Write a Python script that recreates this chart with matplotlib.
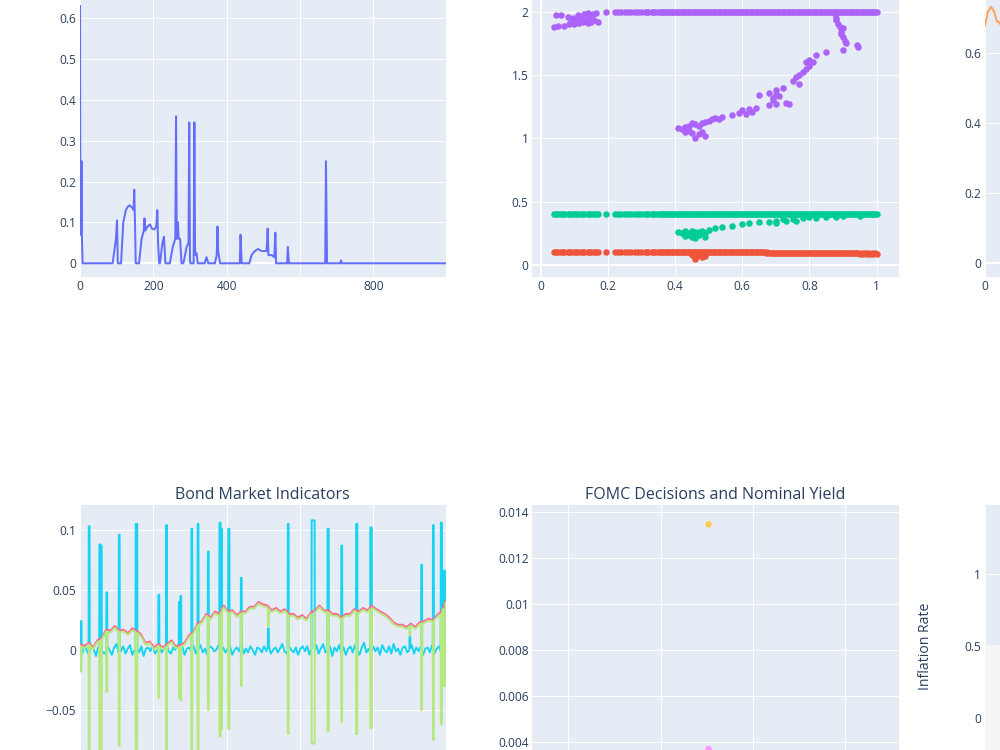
import numpy as np
import matplotlib
matplotlib.use("Agg")
import matplotlib.pyplot as plt
from matplotlib.ticker import FixedLocator, FuncFormatter

plt.rcParams['font.family'] = ['Open Sans', 'DejaVu Sans']

# ---------------- data ----------------
# top-left line (vertices)
tl_x = [0, 1, 2, 3, 4, 5, 7, 89, 98, 101, 103, 112, 118, 125, 130, 135, 140, 144, 146, 148, 150, 152,
        161, 168, 174, 176, 178, 184, 191, 196, 203, 208, 211, 213, 216, 218, 225, 229, 233, 245, 253,
        260, 262, 264, 267, 269, 273, 277, 282, 291, 296, 298, 300, 301, 310, 312, 314, 318, 321, 340,
        345, 350, 368, 373, 375, 377, 382, 436, 438, 441, 462, 468, 477, 486, 495, 509, 512, 514, 523,
        530, 533, 535, 565, 567, 570, 669, 671, 674, 710, 712, 715, 999]
tl_y = [0.63, 0.07, 0.25, 0.08, 0.25, 0.07, 0, 0, 0.06, 0.105, 0, 0, 0.1, 0.13, 0.138, 0.142, 0.138,
        0.135, 0.13, 0.18, 0.1, 0, 0, 0.06, 0.08, 0.11, 0.08, 0.09, 0.095, 0.085, 0.083, 0.09, 0.13,
        0.05, 0, 0, 0.05, 0.065, 0, 0, 0.04, 0.06, 0.36, 0.06, 0.1, 0.06, 0.06, 0, 0, 0.04, 0.05,
        0.345, 0.01, 0, 0, 0.345, 0.02, 0.025, 0, 0, 0.015, 0, 0, 0.02, 0.09, 0.03, 0, 0, 0.07, 0, 0,
        0.02, 0.03, 0.035, 0.03, 0.03, 0.085, 0.02, 0.02, 0.015, 0.075, 0, 0, 0.04, 0, 0, 0.25, 0, 0,
        0.007, 0, 0]

# top-middle scatter
band_x = [0.04, 0.05, 0.06, 0.07, 0.08, 0.09, 0.10, 0.11, 0.12, 0.13, 0.14, 0.15, 0.16, 0.17, 0.195,
          0.22, 0.23, 0.24, 0.25, 0.26, 0.27, 0.28, 0.29, 0.30, 0.31, 0.32, 0.33, 0.34, 0.35, 0.36,
          0.37, 0.38, 0.39, 0.40, 0.41, 0.42, 0.43, 0.44, 0.45, 0.46, 0.47, 0.48, 0.49, 0.50, 0.51,
          0.52, 0.53, 0.54, 0.55, 0.56, 0.57, 0.58, 0.59, 0.60, 0.61, 0.62, 0.63, 0.64, 0.65, 0.66,
          0.67, 0.68, 0.69, 0.70, 0.71, 0.72, 0.73, 0.74, 0.75, 0.76, 0.77, 0.78, 0.79, 0.80, 0.81,
          0.82, 0.83, 0.84, 0.85, 0.86, 0.87, 0.88, 0.89, 0.90, 0.91, 0.92, 0.93, 0.94, 0.95, 0.96,
          0.97, 0.98, 0.99, 1.00]
# extra in-between samples where the bands are continuous
band_fill_x = [0.045, 0.065, 0.085, 0.105, 0.125, 0.145, 0.165,
               0.315, 0.335, 0.355, 0.365, 0.375, 0.385, 0.395, 0.405, 0.415, 0.425, 0.435, 0.445,
               0.455, 0.465, 0.475, 0.485, 0.495, 0.505, 0.515, 0.525, 0.535, 0.545, 0.555, 0.565,
               0.575, 0.585, 0.595, 0.605, 0.615, 0.625, 0.635, 0.645, 0.655, 0.665, 0.675, 0.685,
               0.695, 0.705, 0.715, 0.725, 0.735, 0.745, 0.755, 0.765, 0.775, 0.785, 0.795, 0.805,
               0.815, 0.825, 0.835, 0.845, 0.855, 0.865, 0.875, 0.885, 0.895, 0.905, 0.915, 0.925,
               0.935, 0.945, 0.955, 0.965, 0.975, 0.985, 0.995]
green_band_y = [0.4] * len(band_x)
green_fill_y = [0.4] * len(band_fill_x)
red_band_y = [0.1, 0.1, 0.1, 0.1, 0.1, 0.1, 0.1, 0.1, 0.1, 0.1, 0.1, 0.1, 0.1, 0.1, 0.1,
              0.1, 0.1, 0.1, 0.1, 0.1, 0.1, 0.1, 0.1, 0.1, 0.1, 0.1, 0.1, 0.1, 0.1, 0.1,
              0.1, 0.1, 0.1, 0.1, 0.1, 0.1, 0.1, 0.1, 0.1, 0.1, 0.1, 0.1, 0.1, 0.1, 0.1,
              0.1, 0.1, 0.1, 0.1, 0.1, 0.1, 0.1, 0.1, 0.1, 0.1, 0.1, 0.1, 0.1, 0.1, 0.1,
              0.098, 0.098, 0.098, 0.098, 0.097, 0.097, 0.097, 0.097, 0.096, 0.096, 0.096, 0.095, 0.095, 0.095, 0.095,
              0.094, 0.094, 0.094, 0.093, 0.093, 0.093, 0.092, 0.092, 0.092, 0.092, 0.091, 0.091, 0.091, 0.09, 0.09,
              0.09, 0.09, 0.09, 0.09]
red_fill_y = [0.1] * 7 + [0.1] * 35 + [0.097] * 16 + [0.093] * 16
purple_top_x = band_x[14:] + band_fill_x[7:]
purple_top_y = [2.0] * len(purple_top_x)
purple_x = [0.04, 0.045, 0.05, 0.06, 0.07, 0.08, 0.085, 0.09, 0.095, 0.10, 0.105, 0.11, 0.115, 0.12,
            0.125, 0.13, 0.135, 0.14, 0.145, 0.15, 0.155, 0.16, 0.165, 0.17, 0.10, 0.12, 0.14,
            0.875, 0.88, 0.885, 0.89, 0.895, 0.90, 0.90, 0.905, 0.91, 0.90, 0.94, 0.945, 0.88, 0.895,
            0.41, 0.42, 0.43, 0.43, 0.44, 0.44, 0.45, 0.45, 0.46, 0.46, 0.47, 0.47, 0.48, 0.48, 0.49,
            0.49, 0.50, 0.51, 0.52, 0.53, 0.54, 0.57, 0.59, 0.60, 0.61, 0.62, 0.63, 0.64, 0.65, 0.68,
            0.69, 0.70, 0.71, 0.72, 0.73, 0.68, 0.70, 0.74, 0.75, 0.76, 0.77, 0.77, 0.78, 0.79, 0.79,
            0.80, 0.80, 0.81, 0.82, 0.85, 0.70, 0.69]
purple_y = [1.88, 1.97, 1.89, 1.97, 1.89, 1.96, 1.90, 1.92, 1.95, 1.90, 1.93, 1.97, 1.91, 1.94,
            1.92, 1.98, 1.93, 1.99, 1.95, 1.92, 1.98, 1.93, 1.99, 1.92, 1.91, 1.95, 1.91,
            1.98, 1.93, 1.90, 1.88, 1.84, 1.80, 1.87, 1.77, 1.75, 1.70, 1.74, 1.72, 1.95, 1.82,
            1.08, 1.07, 1.09, 1.05, 1.10, 1.06, 1.12, 1.04, 1.11, 1.00, 1.10, 1.03, 1.12, 1.05, 1.02,
            1.13, 1.14, 1.15, 1.16, 1.15, 1.17, 1.18, 1.20, 1.22, 1.19, 1.23, 1.21, 1.24, 1.34, 1.36,
            1.30, 1.38, 1.33, 1.40, 1.28, 1.26, 1.27, 1.27, 1.45, 1.48, 1.50, 1.43, 1.52, 1.55, 1.60,
            1.62, 1.57, 1.60, 1.66, 1.68, 1.35, 1.32]
green_x = [0.41, 0.42, 0.43, 0.43, 0.44, 0.45, 0.45, 0.46, 0.46, 0.47, 0.48, 0.49, 0.49, 0.50, 0.52,
           0.54, 0.57, 0.60, 0.62, 0.65, 0.68, 0.70, 0.72, 0.75, 0.78, 0.80, 0.85, 0.90, 0.95, 0.70,
           0.73, 0.76, 0.82, 0.88, 0.44, 0.47, 0.455, 0.475]
green_y = [0.26, 0.25, 0.27, 0.23, 0.25, 0.22, 0.27, 0.21, 0.26, 0.24, 0.27, 0.22, 0.25, 0.28, 0.29,
           0.30, 0.31, 0.32, 0.33, 0.34, 0.34, 0.35, 0.36, 0.36, 0.37, 0.38, 0.38, 0.39, 0.39, 0.33,
           0.35, 0.35, 0.37, 0.38, 0.24, 0.26, 0.24, 0.25]
red_x = [0.45, 0.46, 0.465, 0.47, 0.48, 0.49]
red_y = [0.08, 0.05, 0.07, 0.08, 0.06, 0.07]

# top-right line
tr_x = [0, 4, 8, 12, 16, 20, 25, 30, 34, 38, 44, 50, 60, 70]
tr_y = [0.68, 0.70, 0.72, 0.725, 0.733, 0.728, 0.72, 0.70, 0.69, 0.69, 0.68, 0.675, 0.68, 0.69]

# bottom-left: Bond Market Indicators
pink_y = [0.005, 0.003, 0.006, 0.002, 0.008, 0.010, 0.017, 0.016, 0.020, 0.016, 0.017, 0.014,
          0.018, 0.016, 0.013, 0.006, 0.007, 0.002, 0.005, 0.002, 0.005, 0.008, 0.003, 0.004,
          0.006, 0.012, 0.015, 0.022, 0.024, 0.030, 0.027, 0.032, 0.030, 0.037, 0.032, 0.033,
          0.029, 0.032, 0.032, 0.036, 0.036, 0.040, 0.038, 0.037, 0.033, 0.035, 0.032, 0.034,
          0.030, 0.030, 0.027, 0.029, 0.026, 0.031, 0.033, 0.037, 0.033, 0.033, 0.030, 0.030,
          0.027, 0.030, 0.030, 0.034, 0.032, 0.035, 0.033, 0.037, 0.034, 0.032, 0.030, 0.027,
          0.023, 0.021, 0.021, 0.019, 0.022, 0.019, 0.023, 0.024, 0.026, 0.025, 0.029, 0.032,
          0.041]
cyan_noise = [0.002, -0.003, 0.004, -0.001, -0.004, 0.003, 0.001, -0.005, 0.002, 0.004, -0.002,
              -0.003, 0.003, 0.0, -0.004, 0.002, 0.005, -0.002, -0.001, 0.003, -0.003, 0.001,
              0.004, -0.004, 0.0, 0.002, -0.002, 0.003, -0.005, 0.001, 0.002, -0.001, 0.004,
              -0.003, 0.0, 0.003, -0.002, 0.001, 0.005, -0.001, -0.003, 0.002, 0.0, 0.004,
              -0.002, 0.003, -0.004, 0.001, 0.002, -0.001, 0.003, -0.003, 0.0, 0.004, -0.002,
              0.001, -0.004, 0.003, 0.002, -0.001, 0.0, 0.004, -0.003, 0.002, -0.002, 0.001,
              0.003, -0.004, 0.0, 0.002, -0.001, 0.005, -0.003, 0.001, -0.002, 0.003, 0.0,
              -0.004, 0.002, 0.001, -0.002, 0.003, -0.001, 0.004, -0.003, 0.0, 0.002, -0.002,
              0.001, 0.005, -0.001, -0.003, 0.003, 0.0, -0.002, 0.002, -0.004, 0.001, 0.003,
              -0.001, 0.003, -0.004, 0.002, -0.002, 0.004, -0.003, 0.001, 0.005, -0.002, 0.0,
              0.003, -0.005, 0.002, -0.001, 0.004, -0.003, 0.002, -0.004, 0.001, 0.003, -0.002,
              0.004, -0.001, -0.004, 0.002, 0.006, -0.002, 0.001, -0.003, 0.003, -0.001, 0.002,
              -0.004, 0.004, 0.0, -0.002, 0.003, -0.003, 0.005, -0.001, 0.001, -0.004, 0.002,
              0.003, -0.002, 0.0, 0.004, -0.003, 0.002, -0.001, 0.003, -0.004, 0.001, 0.002,
              -0.002, 0.004, -0.003, 0.001, 0.003, -0.002, 0.0, 0.002]
spike_x = [3, 25, 54, 58, 73, 107, 154, 215, 236, 271, 275, 305, 322, 350, 382, 386, 406, 440, 514,
           568, 636, 677, 714, 755, 794, 900, 932, 964, 986, 994]
spike_w = [2, 2, 2, 2, 2, 2, 4, 2, 2, 2, 2, 2, 2, 2, 3, 2, 3, 2, 2, 2, 8, 3, 2, 3, 4, 2, 2, 2, 3, 5]
cyan_peak = [0.024, 0.103, 0.088, 0.087, 0.048, 0.096, 0.105, 0.046, 0.104, 0.040, 0.045, 0.101,
             0.105, 0.082, 0.106, 0.101, 0.101, 0.060, 0.018, 0.105, 0.108, 0.101, 0.087, 0.105,
             0.102, 0.011, 0.071, 0.104, 0.106, 0.066]
green_trough = [-0.018, -0.12, -0.10, -0.09, -0.035, -0.08, -0.12, -0.04, -0.12, -0.04, -0.042,
                -0.12, -0.12, -0.05, -0.072, -0.066, -0.066, -0.03, 0.02, -0.07, -0.078, -0.068,
                -0.06, -0.07, -0.065, 0.012, -0.05, -0.075, -0.062, -0.03]

# bottom-middle: FOMC decisions
fomc_x = [2.52, 2.52]
fomc_y = [0.01345, 0.00368]
fomc_colors = ['#FECB52', '#FF97FF']

# bottom-right: Inflation
infl_split = 0.51

# ---------------- styling helpers ----------------
BG = '#E5ECF6'
TXT = '#2a3f5f'
FS_TICK = 12 * 0.72
FS_TITLE = 16 * 0.72


def fmt(v, pos=None):
    s = f"{v:g}"
    if s == '-0':
        s = '0'
    return s.replace('-', '\u2212')


def rect(l, t, w, h):
    return [l / 1000, 1 - (t + h) / 750, w / 1000, h / 750]


def style(ax, xt, yt, xlim, ylim, xzero=True, yzero=True, xlabels=True):
    ax.set_facecolor(BG)
    for s in ax.spines.values():
        s.set_visible(False)
    ax.set_xlim(*xlim)
    ax.set_ylim(*ylim)
    ax.xaxis.set_major_locator(FixedLocator(xt))
    ax.yaxis.set_major_locator(FixedLocator(yt))
    ax.xaxis.set_major_formatter(FuncFormatter(fmt))
    ax.yaxis.set_major_formatter(FuncFormatter(fmt))
    ax.tick_params(length=0, labelsize=FS_TICK, labelcolor=TXT)
    ax.tick_params(axis='y', pad=2.4)
    ax.tick_params(axis='x', pad=2.0, labelbottom=xlabels)
    ax.set_axisbelow(True)
    ax.grid(True, color='white', lw=0.72)
    if yzero and ylim[0] <= 0 <= ylim[1]:
        ax.axhline(0, color='white', lw=1.44, zorder=0.6)
    if xzero and xlim[0] <= 0 <= xlim[1]:
        ax.axvline(0, color='white', lw=1.44, zorder=0.6)


def build_line(bx, by, sx, sv, sw):
    bx = np.asarray(bx, float)
    by = np.asarray(by, float)
    keep = np.ones(len(bx), bool)
    for x, w in zip(sx, sw):
        keep &= ~((bx >= x - w / 2 - 0.6) & (bx <= x + w / 2 + 0.6))
    px = list(bx[keep])
    py = list(by[keep])
    for x, v, w in zip(sx, sv, sw):
        x0, x1 = x - w / 2, x + w / 2
        b0 = float(np.interp(x0 - 0.5, bx, by))
        b1 = float(np.interp(x1 + 0.5, bx, by))
        px += [x0 - 0.5, x0, x1, x1 + 0.5]
        py += [b0, v, v, b1]
    order = np.argsort(px, kind='stable')
    return np.asarray(px)[order], np.asarray(py)[order]


fig = plt.figure(figsize=(10, 7.5), dpi=100)

L1, L2, L3, W = 79.5, 532, 984.5, 366.5
TOP1, TOP2, H = -5, 505, 282

# ---- top-left ----
ax1 = fig.add_axes(rect(L1, TOP1, W, H))
style(ax1, [0, 200, 400, 600, 800], [0, 0.1, 0.2, 0.3, 0.4, 0.5, 0.6], (-1.4, 998.5), (-0.0336, 0.657))
ax1.set_xticklabels(['0', '200', '400', '', '800'])
ax1.plot(tl_x, tl_y, color='#636efa', lw=1.44, solid_joinstyle='round')

# ---- top-middle ----
ax2 = fig.add_axes(rect(L2, TOP1, W + 0.5, H))
style(ax2, [0, 0.2, 0.4, 0.6, 0.8, 1], [0, 0.5, 1, 1.5, 2], (-0.0259, 1.0664), (-0.0947, 2.131))
ms = (6.5 * 0.72) ** 2
ax2.scatter(band_x + band_fill_x + red_x, red_band_y + red_fill_y + red_y, s=ms, color='#EF553B', lw=0, zorder=3)
ax2.scatter(band_x + band_fill_x + green_x, green_band_y + green_fill_y + green_y, s=ms, color='#00cc96', lw=0, zorder=3)
ax2.scatter(purple_top_x + purple_x, purple_top_y + purple_y, s=ms, color='#ab63fa', lw=0, zorder=3)

# ---- top-right ----
ax3 = fig.add_axes(rect(L3, TOP1, W, H))
style(ax3, [0], [0, 0.2, 0.4, 0.6], (-1.4, 998.5), (-0.039, 0.767))
ax3.plot(tr_x, tr_y, color='#FFA15A', lw=1.44)

# ---- bottom-left ----
ax4 = fig.add_axes(rect(L1, TOP2, W, H))
style(ax4, [0, 200, 400, 600, 800], [-0.05, 0, 0.05, 0.1], (-1.4, 998.5), (-0.1142, 0.1208),
      xlabels=False)
bx = np.linspace(0, 998, len(pink_y))
cx_base = np.linspace(0, 998, len(cyan_noise))
cyx, cyy = build_line(cx_base, cyan_noise, spike_x, cyan_peak, spike_w)
grx, gry = build_line(bx, np.asarray(pink_y) - 0.0015, spike_x, green_trough, spike_w)
ax4.plot(cyx, cyy, color='#19d3f3', lw=1.44)
ax4.plot(bx, pink_y, color='#FF6692', lw=1.44)
ax4.plot(grx, gry, color='#B6E880', lw=1.44)
fig.text((L1 + W / 2) / 1000, 1 - 495 / 750, 'Bond Market Indicators', ha='center', va='center',
         fontsize=FS_TITLE, color=TXT)

# ---- bottom-middle ----
ax5 = fig.add_axes(rect(L2, TOP2, W + 0.5, H))
style(ax5, [1, 2, 3, 4], [0.004, 0.006, 0.008, 0.01, 0.012, 0.014], (0.607, 4.583), (0.00203, 0.014291),
      xlabels=False)
ax5.scatter(fomc_x, fomc_y, s=ms, c=fomc_colors, lw=0, zorder=3)
fig.text((L2 + W / 2) / 1000, 1 - 495 / 750, 'FOMC Decisions and Nominal Yield', ha='center',
         va='center', fontsize=FS_TITLE, color=TXT)

# ---- bottom-right ----
ax6 = fig.add_axes(rect(L3, TOP2, W, H))
style(ax6, [0], [0, 0.5, 1], (-1.4, 998.5), (-0.477, 1.481), xlabels=False)
ax6.axhspan(-0.477, infl_split, color='#f5f5f5', lw=0, zorder=1)
ax6.set_ylabel('Inflation Rate', fontsize=14 * 0.72, color=TXT)
ax6.yaxis.set_label_coords(-(984.5 - 933) / W, 0.5)

fig.savefig('out.png', dpi=100)
